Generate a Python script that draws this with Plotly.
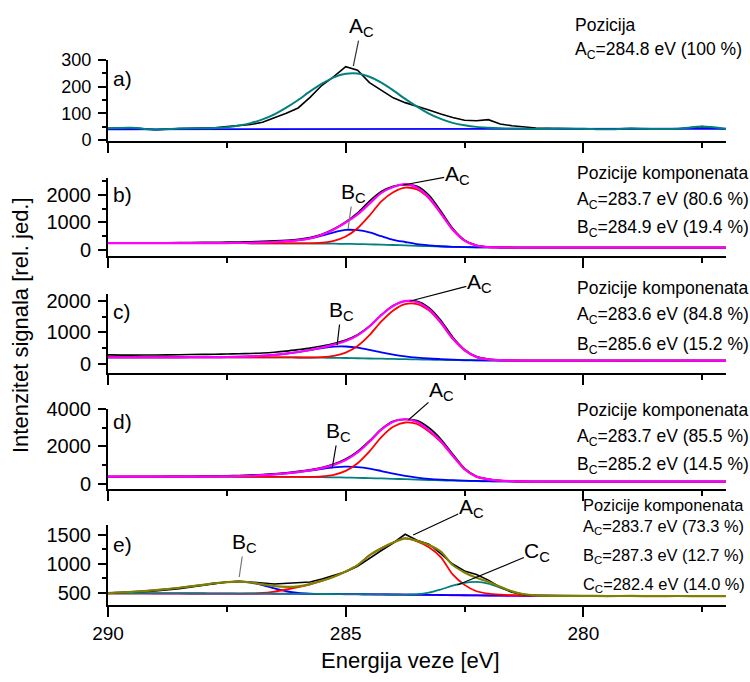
import plotly.graph_objects as go

# ---------------- data ----------------
energy = [290, 289.5, 289, 288.5, 288, 287.75, 287.5, 287.25, 287, 286.75, 286.5, 286.25, 286,
          285.75, 285.5, 285.25, 285, 284.75, 284.5, 284.25, 284, 283.75, 283.5, 283.25, 283,
          282.75, 282.5, 282.25, 282, 281.75, 281.5, 281.25, 281, 280.5, 280, 279.5, 279, 278.5,
          278, 277.5, 277]

# panel a
a_data = [44, 46, 38, 43, 45, 46, 50, 53, 58, 66, 82, 100, 120, 160, 205, 238, 275, 262, 215, 185,
          158, 140, 127, 112, 97, 84, 74, 72, 76, 60, 53, 48, 45, 43, 42, 40, 43, 41, 42, 50, 41]
a_bg = [40, 40, 40, 40, 40, 40, 40, 40, 40, 40, 40, 40, 40, 40, 40, 40, 40, 41, 41, 41, 41, 41, 41,
        41, 41, 41, 41, 41, 41, 41, 41, 41, 41, 41, 41, 41, 41, 42, 42, 42, 42]
a_fit = [44, 46, 38, 43, 44, 45, 48, 54, 63, 77, 96, 121, 150, 182, 211, 235, 248, 249, 237, 215,
         186, 154, 125, 99, 79, 64, 55, 49, 46, 44, 43, 42, 41, 43, 42, 40, 43, 41, 42, 50, 41]

# panel b
b_data = [255, 258, 262, 268, 275, 280, 285, 292, 300, 312, 330, 355, 390, 450, 570, 760, 1020, 1350,
          1780, 2130, 2320, 2380, 2320, 2000, 1420, 790, 360, 170, 110, 95, 90, 88, 86, 85, 86, 84,
          85, 86, 84, 85, 85]
b_bg = [250, 250, 250, 249, 248, 248, 247, 246, 245, 244, 243, 242, 240, 237, 233, 228, 222, 215,
        205, 193, 180, 166, 150, 136, 122, 112, 103, 96, 92, 90, 88, 87, 86, 85, 85, 85, 85, 85, 85,
        85, 85]
b_A = [250, 250, 250, 249, 248, 248, 247, 246, 245, 244, 243, 242, 240, 241, 268, 335, 490, 790,
       1250, 1770, 2100, 2270, 2200, 1880, 1330, 740, 340, 160, 105, 93, 89, 87, 86, 85, 85, 85, 85,
       85, 85, 85, 85]
b_B = [250, 250, 250, 249, 249, 250, 252, 256, 262, 273, 290, 318, 355, 420, 520, 640, 730, 720, 640,
       500, 370, 290, 215, 170, 135, 115, 104, 97, 92, 90, 88, 87, 86, 85, 85, 85, 85, 85, 85, 85, 85]
b_sum = [250, 250, 250, 249, 249, 250, 252, 256, 262, 273, 290, 318, 355, 424, 555, 747, 998, 1295,
         1685, 2077, 2290, 2394, 2265, 1914, 1343, 743, 341, 161, 105, 93, 89, 87, 86, 84, 86, 85,
         83, 86, 84, 87, 84]

# panel c
c_data = [290, 282, 288, 295, 305, 310, 318, 325, 335, 350, 375, 410, 455, 505, 570, 650, 760, 930,
          1200, 1560, 1860, 2000, 1990, 1790, 1390, 860, 460, 235, 155, 125, 115, 112, 110, 109, 111,
          110, 110, 109, 111, 110, 109]
c_bg = [215, 215, 215, 214, 214, 213, 213, 212, 212, 211, 210, 208, 207, 204, 200, 195, 190, 183, 175,
        168, 160, 153, 145, 137, 130, 124, 118, 115, 112, 111, 110, 110, 110, 110, 110, 110, 110, 110,
        110, 110, 110]
c_A = [215, 215, 215, 214, 214, 213, 213, 212, 212, 211, 210, 208, 207, 207, 220, 260, 363, 572, 915,
       1350, 1700, 1900, 1900, 1700, 1300, 800, 430, 220, 145, 122, 113, 110, 110, 110, 110, 110, 110,
       110, 110, 110, 110]
c_B = [215, 215, 215, 215, 216, 218, 222, 230, 243, 262, 290, 330, 380, 440, 505, 550, 555, 520, 450,
       370, 300, 245, 205, 175, 155, 138, 126, 118, 114, 112, 110, 110, 110, 110, 110, 110, 110, 110,
       110, 110, 110]
c_sum = [215, 215, 215, 215, 216, 218, 222, 230, 243, 262, 290, 330, 380, 443, 525, 615, 728, 909,
         1190, 1552, 1840, 1992, 1960, 1738, 1325, 814, 438, 223, 147, 123, 113, 110, 110, 108, 111,
         109, 112, 109, 111, 108, 110]

# panel d
d_data = [385, 392, 398, 405, 415, 425, 438, 452, 470, 500, 545, 600, 670, 760, 880, 1060, 1330, 1740,
          2300, 2930, 3350, 3440, 3380, 3000, 2400, 1600, 830, 410, 255, 180, 148, 134, 128, 125, 124,
          125, 123, 124, 125, 123, 124]
d_bg = [390, 390, 390, 389, 388, 387, 386, 385, 384, 382, 380, 376, 372, 366, 360, 350, 340, 325, 310,
        293, 275, 252, 230, 210, 190, 174, 160, 148, 140, 134, 130, 127, 125, 124, 124, 124, 124, 124,
        124, 124, 124]
d_A = [390, 390, 390, 389, 388, 387, 386, 385, 384, 382, 380, 376, 375, 378, 404, 487, 696, 1105, 1739,
       2499, 3050, 3280, 3200, 2800, 2250, 1500, 780, 380, 240, 170, 144, 130, 126, 124, 124, 124, 124,
       124, 124, 124, 124]
d_B = [390, 390, 390, 391, 393, 397, 405, 418, 438, 468, 510, 565, 630, 710, 800, 880, 920, 900, 820,
       690, 550, 430, 340, 275, 230, 200, 178, 160, 148, 140, 134, 129, 126, 124, 124, 124, 124, 124,
       124, 124, 124]
d_sum = [390, 390, 390, 391, 393, 397, 405, 418, 438, 468, 510, 565, 633, 722, 844, 1017, 1276, 1680,
         2249, 2896, 3325, 3458, 3310, 2865, 2290, 1526, 798, 392, 248, 176, 148, 132, 127, 122, 125,
         123, 126, 122, 125, 123, 124]

# panel e
e_data = [495, 512, 535, 572, 625, 660, 690, 702, 693, 672, 655, 668, 670, 690, 742, 800, 868, 960,
          1100, 1232, 1362, 1512, 1410, 1342, 1178, 1000, 878, 820, 722, 602, 512, 472, 460, 452, 450,
          448, 447, 449, 446, 448, 446]
e_bg = [495, 494, 493, 492, 491, 490, 490, 489, 489, 488, 487, 486, 485, 484, 483, 482, 480, 479, 477,
        475, 473, 471, 469, 467, 465, 463, 461, 459, 457, 455, 454, 452, 451, 450, 449, 448, 448, 447,
        447, 446, 446]
e_A = [495, 494, 493, 492, 491, 490, 490, 490, 492, 500, 525, 560, 600, 650, 710, 780, 870, 980, 1150,
       1270, 1370, 1440, 1390, 1290, 1120, 820, 640, 530, 490, 472, 462, 455, 452, 450, 449, 448, 448,
       447, 447, 446, 446]
e_B = [498, 520, 550, 590, 640, 668, 688, 695, 680, 635, 580, 530, 500, 488, 483, 482, 480, 479, 477,
       475, 473, 471, 469, 467, 465, 463, 461, 459, 457, 455, 454, 452, 451, 450, 449, 448, 448, 447,
       447, 446, 446]
e_C = [495, 494, 493, 492, 491, 490, 490, 489, 489, 488, 487, 486, 485, 484, 483, 482, 480, 479, 477,
       476, 474, 473, 478, 505, 560, 625, 675, 690, 660, 590, 520, 475, 458, 450, 449, 448, 448, 447,
       447, 446, 446]
e_sum = [498, 520, 550, 590, 640, 668, 688, 696, 683, 647, 618, 604, 615, 654, 710, 780, 870, 980, 1150,
         1271, 1371, 1442, 1399, 1328, 1215, 982, 854, 761, 693, 607, 528, 478, 459, 450, 451, 447, 449,
         446, 448, 445, 447]

x_ticks = [290, 285, 280]
x_minor = [287.5, 282.5, 277.5]

panel_labels = ["a)", "b)", "c)", "d)", "e)"]
y_major = [[0, 100, 200, 300], [0, 1000, 2000], [0, 1000, 2000], [0, 2000, 4000], [500, 1000, 1500]]
y_minor = [[50, 150, 250], [500, 1500, 2500], [500, 1500], [1000, 3000], [750, 1250]]

right_texts = [
    ["Pozicija", "A<sub>C</sub>=284.8 eV (100 %)"],
    ["Pozicije komponenata", "A<sub>C</sub>=283.7 eV (80.6 %)", "B<sub>C</sub>=284.9 eV (19.4 %)"],
    ["Pozicije komponenata", "A<sub>C</sub>=283.6 eV (84.8 %)", "B<sub>C</sub>=285.6 eV (15.2 %)"],
    ["Pozicije komponenata", "A<sub>C</sub>=283.7 eV (85.5 %)", "B<sub>C</sub>=285.2 eV (14.5 %)"],
    ["Pozicije komponenata", "A<sub>C</sub>=283.7 eV (73.3 %)", "B<sub>C</sub>=287.3 eV (12.7 %)",
     "C<sub>C</sub>=282.4 eV (14.0 %)"],
]

# peak labels: (panel suffix, label, energy of pointed curve point, value there)
peak_labels = [
    ("", "A<sub>C</sub>", 284.84, 277),
    ("2", "A<sub>C</sub>", 283.79, 2365),
    ("2", "B<sub>C</sub>", 284.95, 763),
    ("3", "A<sub>C</sub>", 283.64, 1998),
    ("3", "B<sub>C</sub>", 285.18, 603),
    ("4", "A<sub>C</sub>", 283.68, 3413),
    ("4", "B<sub>C</sub>", 285.28, 903),
    ("5", "A<sub>C</sub>", 283.58, 1500),
    ("5", "B<sub>C</sub>", 287.24, 776),
    ("5", "C<sub>C</sub>", 282.65, 638),
]
# label offsets from the pointed point (pixels) and leader colour
label_offsets = [(8, -39, "#333333"), (54, -10, "#000000"), (5, -36, "#777777"), (69, -18, "#000000"),
                 (4, -34, "#000000"), (33, -29, "#000000"), (6, -35, "#000000"), (58, -27, "#000000"),
                 (5, -34, "#777777"), (80, -33, "#000000")]

# ---------------- layout geometry ----------------
FONT = "Liberation Sans, Arial, sans-serif"
W, H = 750, 682
ML, MR, MT, MB = 108, 24, 60, 77
PW, PH = W - ML - MR, H - MT - MB


def xp(px):
    return (px - ML) / PW


def yp(py):
    return (H - MB - py) / PH


BLACK, RED, BLUE, MAG, TEAL, OLIVE = "#000000", "#ff0000", "#0000ff", "#ff00ff", "#008080", "#808000"

panels = [
    dict(top=60, bot=141, yr=[-4, 300], tf=18,
         series=[(a_data, BLACK, 1.6, "linear"), (a_bg, BLUE, 1.8, "linear"), (a_fit, TEAL, 2.0, "spline")]),
    dict(top=178, bot=256, yr=[-220, 2620], tf=20,
         series=[(b_data, BLACK, 1.6, "spline"), (b_bg, TEAL, 1.8, "spline"), (b_B, BLUE, 1.8, "spline"),
                 (b_A, RED, 1.8, "spline"), (b_sum, MAG, 2.2, "spline")]),
    dict(top=294, bot=373, yr=[-285, 2220], tf=20,
         series=[(c_data, BLACK, 1.6, "spline"), (c_bg, TEAL, 1.8, "spline"), (c_B, BLUE, 1.8, "spline"),
                 (c_A, RED, 1.8, "spline"), (c_sum, MAG, 2.2, "spline")]),
    dict(top=409, bot=489, yr=[-270, 4000], tf=20,
         series=[(d_data, BLACK, 1.6, "spline"), (d_bg, TEAL, 1.8, "spline"), (d_B, BLUE, 1.8, "spline"),
                 (d_A, RED, 1.8, "spline"), (d_sum, MAG, 2.2, "spline")]),
    dict(top=525, bot=605, yr=[293, 1672], tf=20,
         series=[(e_bg, MAG, 2.0, "spline"), (e_B, BLUE, 1.8, "spline"), (e_A, RED, 1.8, "spline"),
                 (e_C, TEAL, 1.8, "spline"), (e_data, BLACK, 1.6, "linear"), (e_sum, OLIVE, 2.2, "spline")]),
]

fig = go.Figure()
layout = dict(width=W, height=H, autosize=False, margin=dict(l=ML, r=MR, t=MT, b=MB),
              paper_bgcolor="white", plot_bgcolor="white", showlegend=False,
              font=dict(family=FONT, color="black"))

for i, p in enumerate(panels):
    n = "" if i == 0 else str(i + 1)
    for vals, col, w, shape in p["series"]:
        fig.add_trace(go.Scatter(x=energy, y=vals, mode="lines", xaxis="x" + n, yaxis="y" + n,
                                 line=dict(color=col, width=w, shape=shape, smoothing=0.8),
                                 hoverinfo="skip"))
    layout["xaxis" + n] = dict(domain=[0, 1], anchor="y" + n, range=[290, 277], showgrid=False,
                               zeroline=False, showline=True, linecolor="black", linewidth=2,
                               tickmode="array", tickvals=x_ticks, ticks="outside", ticklen=10,
                               tickwidth=1.6, tickcolor="black", showticklabels=(i == 4),
                               tickfont=dict(size=19, family=FONT),
                               minor=dict(tickmode="array", tickvals=x_minor, ticks="outside",
                                          ticklen=5, tickwidth=1.6, tickcolor="black"))
    layout["yaxis" + n] = dict(domain=[yp(p["bot"]), yp(p["top"])], anchor="x" + n, range=p["yr"],
                               showgrid=False, zeroline=False, showline=True, linecolor="black",
                               linewidth=2, tickmode="array", tickvals=y_major[i], ticks="outside",
                               ticklen=8, tickwidth=1.6, tickcolor="black",
                               tickfont=dict(size=p["tf"], family=FONT), ticklabelstandoff=3,
                               minor=dict(tickmode="array", tickvals=y_minor[i], ticks="outside",
                                          ticklen=4, tickwidth=1.6, tickcolor="black"))

ann = []
# panel letters
for lab, py in zip(panel_labels, [78, 195, 311, 422, 544]):
    ann.append(dict(text=lab, x=xp(111), y=yp(py), xref="paper", yref="paper", xanchor="left",
                    yanchor="middle", showarrow=False, font=dict(size=21)))

# right-hand texts
rt_pos = [
    (573, [25, 50], 17.5),
    (575, [173, 200, 228], 17.5),
    (575, [288, 315, 346], 17.5),
    (575, [410, 437, 465], 17.5),
    (581, [505, 527, 556, 585], 16.4),
]
for texts, (px, pys, fs) in zip(right_texts, rt_pos):
    for t, py in zip(texts, pys):
        ann.append(dict(text=t, x=xp(px), y=yp(py), xref="paper", yref="paper", xanchor="left",
                        yanchor="middle", showarrow=False, font=dict(size=fs)))

# peak labels with leader lines to the curve
for (n, t, xe, yv), (dx, dy, col) in zip(peak_labels, label_offsets):
    ann.append(dict(text=t, x=xe, y=yv, xref="x" + n, yref="y" + n, showarrow=True, arrowhead=0,
                    arrowwidth=1.2, arrowcolor=col, ax=dx, ay=dy, standoff=0, startstandoff=0,
                    font=dict(size=21), borderpad=0))

# axis titles
ann.append(dict(text="Intenzitet signala [rel. jed.]", x=xp(20), y=yp(325), xref="paper", yref="paper",
                showarrow=False, textangle=-90, font=dict(size=22), xanchor="center", yanchor="middle"))
ann.append(dict(text="Energija veze [eV]", x=xp(410), y=yp(660), xref="paper", yref="paper",
                showarrow=False, font=dict(size=22), xanchor="center", yanchor="middle"))

layout["annotations"] = ann
fig.update_layout(**layout)
fig.write_html("out.html")
